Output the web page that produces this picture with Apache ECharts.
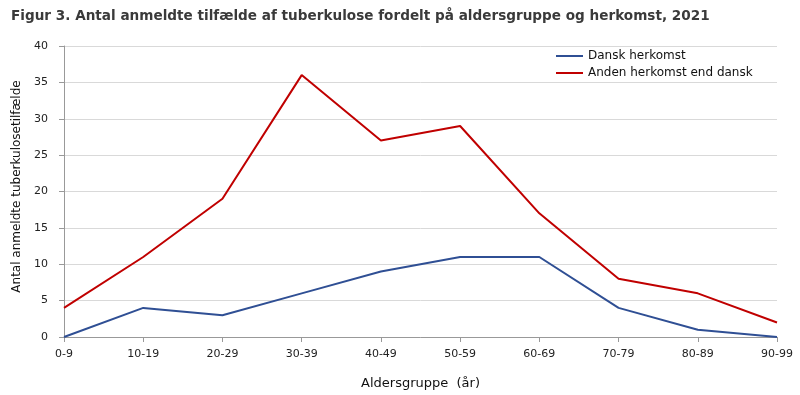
<!DOCTYPE html>
<html><head><meta charset="utf-8">
<script src="https://cdn.jsdelivr.net/npm/echarts@6/dist/echarts.min.js"></script>
<style>html,body{margin:0;padding:0;background:#fff}#c{width:800px;height:395px}</style>
</head><body><div id="c"></div>
<script>
const categories = ['0-9','10-19','20-29','30-39','40-49','50-59','60-69','70-79','80-89','90-99'];
const danskHerkomst = [0,4,3,6,9,11,11,4,1,0];
const andenHerkomst = [4,11,19,36,27,29,17,8,6,2];
const yTicks = [0,5,10,15,20,25,30,35,40];

const font = '"DejaVu Sans", sans-serif';
const chart = echarts.init(document.getElementById('c'), null, {renderer:'canvas'});
chart.setOption({
  animation:false,
  backgroundColor:'#fff',
  title:{text:'Figur 3. Antal anmeldte tilfælde af tuberkulose fordelt på aldersgruppe og herkomst, 2021',
    left:6, top:4, textStyle:{fontFamily:font, fontSize:13.6, fontWeight:'bold', color:'#3a3a3a'}},
  legend:{orient:'vertical', left:551, top:45, itemWidth:27, itemHeight:2, itemGap:5,
    icon:'rect',
    textStyle:{fontFamily:font, fontSize:12, color:'#111'},
    data:['Dansk herkomst','Anden herkomst end dansk']},
  grid:{left:64, right:23, top:46, bottom:58, outerBoundsMode:'none', containLabel:false},
  xAxis:{type:'category', data:categories, boundaryGap:false,
    name:'Aldersgruppe  (år)', nameLocation:'middle', nameGap:40,
    nameTextStyle:{fontFamily:font, fontSize:13, color:'#111'},
    axisLine:{lineStyle:{color:'#999'}},
    axisTick:{show:true, alignWithLabel:true, length:5, lineStyle:{color:'#999'}},
    axisLabel:{fontFamily:font, fontSize:11, color:'#222', margin:12}},
  yAxis:{type:'value', min:yTicks[0], max:yTicks[yTicks.length-1], interval:5,
    name:'Antal anmeldte tuberkulosetilfælde', nameLocation:'middle', nameGap:39,
    nameTextStyle:{fontFamily:font, fontSize:12, color:'#111', padding:[0,0,0,10]},
    axisLine:{show:true, lineStyle:{color:'#999'}},
    axisTick:{show:true, length:5, lineStyle:{color:'#999'}},
    splitLine:{lineStyle:{color:'#d9d9d9'}},
    axisLabel:{fontFamily:font, fontSize:11, color:'#222', margin:16}},
  series:[
    {name:'Dansk herkomst', type:'line', data:danskHerkomst, symbol:'none',
     lineStyle:{color:'#2f4f94', width:2}, itemStyle:{color:'#2f4f94'}},
    {name:'Anden herkomst end dansk', type:'line', data:andenHerkomst, symbol:'none',
     lineStyle:{color:'#c00000', width:2}, itemStyle:{color:'#c00000'}}
  ]
});
</script></body></html>
